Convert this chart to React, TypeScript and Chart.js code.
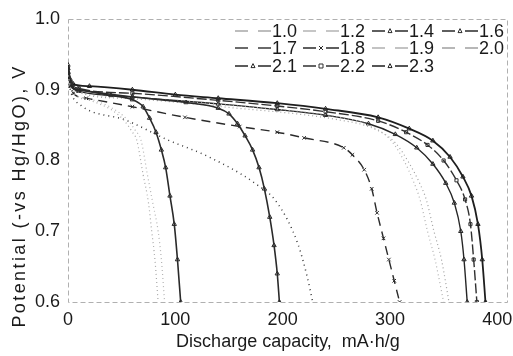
import React, { useEffect, useRef } from 'react';
import { Chart, registerables } from 'chart.js';

Chart.register(...registerables);

const FONT = "'Liberation Sans', Arial, Helvetica, sans-serif";

// ---- data (capacity mA·h/g, potential V) ----
const seriesLabels = ['1.0', '1.2', '1.4', '1.6', '1.7', '1.8', '1.9', '2.0', '2.1', '2.2', '2.3'];
const xTicks = [0, 100, 200, 300, 400];
const yTicks = [0.6, 0.7, 0.8, 0.9, 1.0];
const xTitle = 'Discharge capacity,  mA·h/g';
const yTitle = 'Potential (-vs Hg/HgO), V';

const cap10 = [0, 3, 20, 40, 52, 60, 64, 70, 75, 78, 81, 84];
const pot10 = [0.92, 0.9, 0.885, 0.872, 0.857, 0.84, 0.829, 0.78, 0.74, 0.7, 0.66, 0.6];

const cap12 = [0, 3, 20, 40, 55, 63, 68, 74, 79, 84, 87, 90];
const pot12 = [0.92, 0.9, 0.887, 0.875, 0.858, 0.842, 0.829, 0.78, 0.74, 0.7, 0.66, 0.6];

const cap14 = [0, 3, 10, 40, 60, 70, 76, 82, 87, 91, 95, 99, 102, 105];
const pot14 = [0.93, 0.905, 0.9, 0.892, 0.886, 0.876, 0.86, 0.84, 0.815, 0.79, 0.75, 0.71, 0.66, 0.6];

const cap16 = [0, 3, 10, 60, 110, 140, 150, 158, 165, 172, 178, 183, 188, 192, 195, 197];
const pot16 = [0.925, 0.905, 0.9, 0.89, 0.882, 0.874, 0.866, 0.852, 0.835, 0.815, 0.79, 0.76, 0.72, 0.68, 0.64, 0.6];

const cap17 = [0, 3, 12, 54, 93, 130, 174, 195, 214, 223, 228];
const pot17 = [0.915, 0.895, 0.878, 0.857, 0.829, 0.806, 0.768, 0.74, 0.683, 0.635, 0.6];

const cap18 = [0, 5, 17, 60, 109, 160, 195, 220, 257, 265, 276, 283, 288, 294, 299, 304, 309];
const pot18 = [0.92, 0.895, 0.888, 0.876, 0.861, 0.848, 0.84, 0.832, 0.818, 0.808, 0.787, 0.76, 0.726, 0.69, 0.66, 0.63, 0.6];

const cap19 = [0, 5, 50, 150, 250, 280, 300, 313, 322, 328, 335, 342, 350];
const pot19 = [0.92, 0.9, 0.89, 0.878, 0.862, 0.85, 0.83, 0.8, 0.77, 0.745, 0.7, 0.66, 0.6];

const cap20 = [0, 5, 50, 150, 250, 285, 305, 318, 327, 334, 341, 348, 355];
const pot20 = [0.92, 0.9, 0.888, 0.875, 0.858, 0.845, 0.825, 0.796, 0.77, 0.744, 0.7, 0.66, 0.6];

const cap21 = [0, 3, 10, 60, 140, 195, 240, 280, 305, 325, 340, 352, 360, 366, 369, 372];
const pot21 = [0.925, 0.905, 0.898, 0.89, 0.88, 0.872, 0.864, 0.852, 0.837, 0.818, 0.795, 0.768, 0.74, 0.7, 0.66, 0.6];

const cap22 = [0, 3, 10, 60, 140, 195, 240, 289, 315, 335, 350, 362, 370, 375, 378, 381];
const pot22 = [0.93, 0.91, 0.902, 0.895, 0.885, 0.877, 0.869, 0.856, 0.84, 0.822, 0.8, 0.772, 0.745, 0.71, 0.66, 0.6];

const cap23 = [0, 2, 5, 20, 60, 100, 140, 195, 240, 289, 318, 340, 356, 368, 376, 382, 386, 389];
const pot23 = [0.935, 0.915, 0.908, 0.905, 0.9, 0.893, 0.888, 0.881, 0.873, 0.861, 0.845, 0.828, 0.805, 0.777, 0.75, 0.71, 0.66, 0.6];

const capacities = [cap10, cap12, cap14, cap16, cap17, cap18, cap19, cap20, cap21, cap22, cap23];
const potentials = [pot10, pot12, pot14, pot16, pot17, pot18, pot19, pot20, pot21, pot22, pot23];

// ---- styles ----
type St = { color: string; dash: number[]; width: number; point: false | string; r: number };
const styles: St[] = [
  { color: '#a8a8a8', dash: [1, 3], width: 1.2, point: false, r: 0 },
  { color: '#b4b4b4', dash: [1, 3], width: 1.2, point: false, r: 0 },
  { color: '#2a2a2a', dash: [], width: 1.6, point: 'triangle', r: 2.5 },
  { color: '#2a2a2a', dash: [], width: 1.6, point: 'triangle', r: 2.5 },
  { color: '#3a3a3a', dash: [1, 4], width: 1.5, point: false, r: 0 },
  { color: '#2a2a2a', dash: [9, 6], width: 1.4, point: 'crossRot', r: 2.5 },
  { color: '#b0b0b0', dash: [1, 3], width: 1.2, point: false, r: 0 },
  { color: '#a0a0a0', dash: [1, 3], width: 1.2, point: false, r: 0 },
  { color: '#262626', dash: [], width: 1.4, point: 'triangle', r: 2.5 },
  { color: '#303030', dash: [10, 3], width: 1.4, point: 'rect', r: 2.2 },
  { color: '#1e1e1e', dash: [], width: 1.8, point: 'triangle', r: 2.5 },
];

const LEGEND_X = [235, 303, 372, 442];
const LEGEND_Y = [31, 48, 66];

function drawMarker(ctx: CanvasRenderingContext2D, style: string, x: number, y: number, r: number) {
  ctx.beginPath();
  if (style === 'triangle') {
    ctx.moveTo(x, y - r * 1.2);
    ctx.lineTo(x + r, y + r * 0.8);
    ctx.lineTo(x - r, y + r * 0.8);
    ctx.closePath();
  } else if (style === 'crossRot') {
    ctx.moveTo(x - r, y - r); ctx.lineTo(x + r, y + r);
    ctx.moveTo(x + r, y - r); ctx.lineTo(x - r, y + r);
  } else {
    ctx.rect(x - r, y - r, 2 * r, 2 * r);
  }
  ctx.stroke();
}

const framePlugin = {
  id: 'frame',
  beforeDatasetsDraw(chart: any) {
    const { ctx, chartArea: a } = chart;
    ctx.save();
    ctx.strokeStyle = '#b0b0b0';
    ctx.lineWidth = 1;
    ctx.setLineDash([5, 3]);
    ctx.strokeRect(a.left + 0.5, a.top + 0.5, a.right - a.left - 1, a.bottom - a.top);
    ctx.restore();
  },
};

const legendPlugin = {
  id: 'inlineLegend',
  afterDraw(chart: any) {
    const ctx: any = chart.ctx;
    ctx.save();
    ctx.font = `18px ${FONT}`;
    ctx.textBaseline = 'middle';
    chart.data.datasets.forEach((ds: any, i: number) => {
      const st = styles[i];
      const x0 = LEGEND_X[i % 4];
      const y = LEGEND_Y[Math.floor(i / 4)];
      ctx.strokeStyle = st.color;
      ctx.lineWidth = 1.5;
      ctx.setLineDash([]);
      ctx.beginPath();
      ctx.moveTo(x0, y); ctx.lineTo(x0 + 13, y);
      ctx.moveTo(x0 + 23, y); ctx.lineTo(x0 + 36, y);
      ctx.stroke();
      if (st.point) {
        ctx.lineWidth = 1;
        drawMarker(ctx, st.point, x0 + 18, y, 2);
      }
      ctx.fillStyle = '#1a1a1a';
      ctx.fillText(ds.label, x0 + 37, y + 1);
    });
    // y-axis title
    ctx.translate(20, 196);
    ctx.rotate(-Math.PI / 2);
    ctx.textAlign = 'center';
    ctx.fillStyle = '#1a1a1a';
    if ('letterSpacing' in ctx) ctx.letterSpacing = '2.4px';
    ctx.fillText(yTitle, 0, 0);
    ctx.restore();
  },
};

export default function App() {
  const ref = useRef<HTMLCanvasElement | null>(null);
  useEffect(() => {
    if (!ref.current) return;
    const datasets = seriesLabels.map((label, i) => {
      const st = styles[i];
      return {
        label,
        data: capacities[i].map((x, j) => ({ x, y: potentials[i][j] })),
        borderColor: st.color,
        borderWidth: st.width,
        borderDash: st.dash,
        pointStyle: st.point || 'circle',
        pointRadius: st.r,
        pointBorderColor: st.color,
        pointBackgroundColor: 'rgba(0,0,0,0)',
        pointBorderWidth: 1,
        cubicInterpolationMode: 'monotone' as const,
        fill: false,
      };
    });
    const chart = new Chart(ref.current, {
      type: 'line',
      data: { datasets },
      options: {
        responsive: false,
        animation: false,
        layout: { padding: { top: 19, right: 2, left: 0, bottom: 0 } },
        plugins: { legend: { display: false }, tooltip: { enabled: false } },
        scales: {
          x: {
            type: 'linear',
            min: 0,
            max: 410,
            grid: { display: false, drawTicks: false },
            border: { display: false },
            afterBuildTicks: (s: any) => { s.ticks = xTicks.map((v) => ({ value: v })); },
            afterFit: (s: any) => { s.height = 54; s.paddingRight = 0; s.paddingLeft = 0; },
            ticks: { padding: 7, color: '#1a1a1a', font: { family: FONT, size: 18 } },
            title: { display: true, text: xTitle, color: '#1a1a1a', padding: { top: 0, bottom: 3 }, font: { family: FONT, size: 18 } },
          },
          y: {
            type: 'linear',
            min: 0.6,
            max: 1.0,
            grid: { display: false, drawTicks: false },
            border: { display: false },
            afterBuildTicks: (s: any) => { s.ticks = yTicks.map((v) => ({ value: v })); },
            afterFit: (s: any) => { s.width = 68; s.paddingTop = 0; s.paddingBottom = 0; },
            ticks: { padding: 8, color: '#1a1a1a', font: { family: FONT, size: 18 }, callback: (v: any) => Number(v).toFixed(1) },
          },
        },
      },
      plugins: [framePlugin, legendPlugin],
    });
    return () => chart.destroy();
  }, []);
  return (
    <div style={{ position: 'absolute', left: 0, top: 0, width: 513, height: 356, background: '#fff' }}>
      <canvas ref={ref} width={513} height={356} style={{ display: 'block' }} />
    </div>
  );
}
